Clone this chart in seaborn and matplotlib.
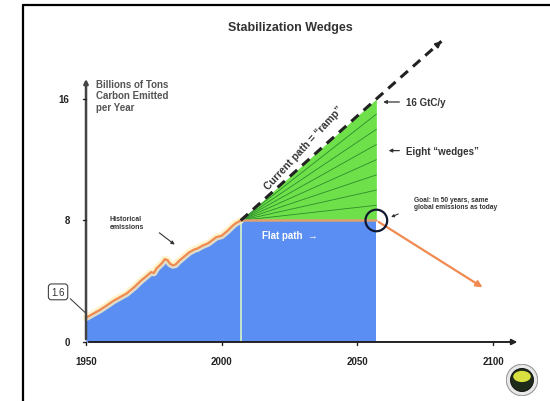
import matplotlib
matplotlib.use("Agg")
import matplotlib.pyplot as plt
from matplotlib.patches import Circle, Ellipse
import numpy as np
import pandas as pd
import seaborn as sns

# historical emissions (GtC/yr)
hist_years = [1950, 1952, 1955, 1958, 1960, 1963, 1965, 1968, 1970, 1972, 1974, 1975,
              1976, 1978, 1979, 1980, 1981, 1982, 1983, 1984, 1986, 1988, 1990, 1991,
              1993, 1995, 1998, 2000, 2002, 2004, 2005, 2007]
hist_vals = [1.6, 1.8, 2.1, 2.45, 2.7, 3.0, 3.2, 3.65, 4.0, 4.3, 4.6, 4.55,
             4.85, 5.2, 5.45, 5.4, 5.15, 5.05, 5.1, 5.3, 5.6, 5.9, 6.1, 6.15,
             6.35, 6.5, 6.9, 7.0, 7.3, 7.65, 7.8, 8.0]

# stabilization scenario
ramp_years = [2007, 2057, 2081]
ramp_vals = [8, 16, 19.8]
flat_years = [2007, 2057]
flat_vals = [8, 8]
decline_years = [2057, 2097]
decline_vals = [8, 3.5]
n_wedges = 8

x_ticks = [1950, 2000, 2050, 2100]
y_ticks = [0, 8, 16]

blue = "#5a8ef2"
green = "#6ee04a"
orange = "#f08a50"

sns.set_theme(style="white")
plt.rcParams["font.family"] = ["Liberation Sans", "DejaVu Sans"]

fig = plt.figure(figsize=(5.5, 4.02), dpi=100)
ax = fig.add_axes([0, 0, 1, 1])
ax.set_xlim(1918.3, 2121.0)
ax.set_ylim(-3.885, 22.58)
ax.axis("off")

# frame of the slide
fig.add_artist(plt.Line2D([0.042, 0.042], [0, 0.985], color="black", lw=1.6))
fig.add_artist(plt.Line2D([0.042, 1.0], [0.985, 0.985], color="black", lw=1.6))

# blue area: history + flat path
ax.fill_between(hist_years, 0, hist_vals, color=blue, lw=0, zorder=2)
ax.fill_between(flat_years, 0, flat_vals, color=blue, lw=0, zorder=2)

# green wedges
ax.fill_between(ramp_years[:2], flat_vals, ramp_vals[:2], color=green, lw=0, zorder=2)
for k in range(1, n_wedges):
    ax.plot(flat_years, [flat_vals[0], flat_vals[1] + k * (ramp_vals[1] - flat_vals[1]) / n_wedges],
            color="#2e8b2e", lw=0.6, zorder=3)

# pale divider at 2007
ax.plot([flat_years[0], flat_years[0]], [0, flat_vals[0]], color="#d8f5c8", lw=1.2, zorder=3)

# historical line with glow
ax.plot(hist_years, hist_vals, color="#fff0c0", lw=5, alpha=0.8, zorder=3, solid_capstyle="round")
sns.lineplot(x=hist_years, y=hist_vals, color=orange, lw=1.6, ax=ax, zorder=4)
ax.plot(flat_years, flat_vals, color="#e0a070", lw=1.8, zorder=4)

# dashed ramp
sns.lineplot(x=ramp_years, y=ramp_vals, color="#222222", lw=2.2,
             linestyle=(0, (3.2, 2.2)), ax=ax, zorder=5)
ax.annotate("", xy=(ramp_years[-1], ramp_vals[-1]), xytext=(ramp_years[-1] - 1.5, ramp_vals[-1] - 0.24),
            arrowprops=dict(arrowstyle="-|>", color="#222222", lw=1.5, mutation_scale=8), zorder=5)

# decline arrow
ax.annotate("", xy=(decline_years[1], decline_vals[1]), xytext=(decline_years[0], decline_vals[0]),
            arrowprops=dict(arrowstyle="-|>", color=orange, lw=1.6, mutation_scale=9), zorder=5)

# circle at goal point
ax.add_patch(Ellipse((2057, 8), 8.0, 1.42, fill=False, ec="#101830", lw=1.6, zorder=6))

# axes with arrows
ax.annotate("", xy=(2110, 0), xytext=(1950, 0),
            arrowprops=dict(arrowstyle="-|>", color="#222222", lw=1.4, mutation_scale=8), zorder=6)
ax.annotate("", xy=(1950, 17.5), xytext=(1950, 0),
            arrowprops=dict(arrowstyle="-|>", color="#444444", lw=1.8, mutation_scale=6), zorder=6)

for xt in x_ticks:
    ax.plot([xt, xt], [0, -0.2], color="#222222", lw=1, zorder=6)
    ax.text(xt, -1.25, str(xt), ha="center", va="center", fontsize=7, fontweight="bold", color="#222222")
for yt in y_ticks:
    ax.plot([1949, 1950], [yt, yt], color="#222222", lw=1, zorder=6)
    ax.text(1944.0, yt, str(yt), ha="right", va="center", fontsize=7, fontweight="bold", color="#222222")

# texts
ax.text(2025.2, 20.74, "Stabilization Wedges", ha="center", va="center",
        fontsize=9, fontweight="bold", color="#333333")
ax.text(1953.7, 17.3, "Billions of Tons\nCarbon Emitted\nper Year", ha="left", va="top",
        fontsize=7, fontweight="bold", color="#555555", linespacing=1.15)
ax.text(1958.8, 7.85, "Historical\nemissions", ha="left", va="center",
        fontsize=5, fontweight="bold", color="#333333", linespacing=1.1)
ax.annotate("", xy=(1983.5, 6.3), xytext=(1976.2, 7.3),
            arrowprops=dict(arrowstyle="-|>", color="#333333", lw=0.8, mutation_scale=5))
ax.text(1939.7, 3.3, "1.6", ha="center", va="center", fontsize=7, color="#333333",
        bbox=dict(boxstyle="round,pad=0.3", fc="white", ec="#444444", lw=0.8))
ax.plot([1944.2, 1949.6], [2.85, 1.95], color="#444444", lw=0.8)
ax.text(2030.3, 12.8, "Current path = \u201cramp\u201d", ha="center", va="center",
        rotation=47, fontsize=7.5, fontweight="bold", color="#333333")
ax.text(2014.9, 7.05, "Flat path  \u2192", ha="left", va="center", fontsize=7,
        fontweight="bold", color="white", zorder=7)
ax.text(2067.8, 15.8, "16 GtC/y", ha="left", va="center", fontsize=7, fontweight="bold", color="#333333")
ax.annotate("", xy=(2058.5, 15.8), xytext=(2066.5, 15.8),
            arrowprops=dict(arrowstyle="-|>", color="#333333", lw=0.9, mutation_scale=5))
ax.text(2067.8, 12.6, "Eight \u201cwedges\u201d", ha="left", va="center", fontsize=7, fontweight="bold", color="#333333")
ax.annotate("", xy=(2060.5, 12.6), xytext=(2066.5, 12.6),
            arrowprops=dict(arrowstyle="-|>", color="#333333", lw=0.9, mutation_scale=5))
ax.text(2070.9, 9.15, "Goal: In 50 years, same\nglobal emissions as today", ha="left", va="center",
        fontsize=4.8, fontweight="bold", color="#333333", linespacing=1.15)
ax.annotate("", xy=(2061.5, 8.15), xytext=(2066, 8.5),
            arrowprops=dict(arrowstyle="-|>", color="#333333", lw=0.8, mutation_scale=4))

# small logo badge
lax = fig.add_axes([506 / 550, 1 - 397 / 402, 32 / 550, 32 / 402])
lax.set_xlim(-1, 1)
lax.set_ylim(-1, 1)
lax.set_aspect("equal")
lax.axis("off")
lax.add_patch(Circle((0, 0), 0.98, fc="#e8e8e8", ec="#999999", lw=0.8))
lax.add_patch(Circle((0, 0), 0.72, fc="#1e2a1a", ec="#0a0a0a", lw=0.6))
lax.add_patch(Ellipse((0, 0.22), 1.1, 0.7, fc="#d8e040", ec="none"))

fig.savefig("out.png", dpi=100)
